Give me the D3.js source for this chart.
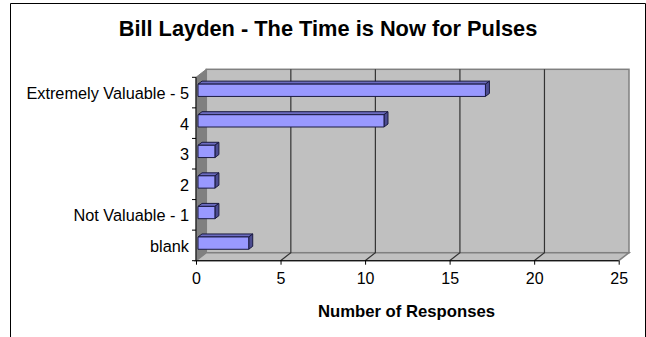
<!DOCTYPE html>
<html>
<head>
<meta charset="utf-8">
<script src="https://cdn.jsdelivr.net/npm/d3@7/dist/d3.min.js"></script>
<style>
  html, body { margin: 0; padding: 0; background: #fff; }
  svg { display: block; }
  text { font-family: "Liberation Sans", Arial, sans-serif; fill: #000; }
</style>
</head>
<body>
<svg id="chart" width="646" height="337"></svg>
<script>
const chartTitle = "Bill Layden - The Time is Now for Pulses";
const axisTitle = "Number of Responses";
const categories = ["Extremely Valuable - 5", "4", "3", "2", "Not Valuable - 1", "blank"];
const responses = [17, 11, 1, 1, 1, 3];
const xTicks = [0, 5, 10, 15, 20, 25];

const svg = d3.select("#chart");

// Frame around the chart area; it runs off the bottom of the page.
svg.append("path")
  .attr("d", "M10.5,337V3.5H645.5V337")
  .attr("fill", "none").attr("stroke", "#000").attr("stroke-width", 1);

svg.append("text")
  .attr("x", 328).attr("y", 36).attr("text-anchor", "middle")
  .attr("font-size", 21.8).attr("font-weight", "bold").text(chartTitle);

const x = d3.scaleLinear().domain([0, 25]).range([196, 618.7]);
const y = d3.scaleBand().domain(categories).range([77.3, 260.7]);
const depth = { x: 10.3, y: -8 };
const barDepth = { x: 4, y: -3 };
const barHeight = 12.3;

const [x0, x1] = x.range();
const [yTop, yBot] = y.range();

// Back wall
svg.append("rect")
  .attr("x", x0 + depth.x).attr("y", yTop + depth.y)
  .attr("width", x1 - x0).attr("height", yBot - yTop)
  .attr("fill", "#c0c0c0").attr("stroke", "#808080").attr("stroke-width", 1.5);

// Side wall
svg.append("polygon")
  .attr("points", [[x0, yTop], [x0 + depth.x, yTop + depth.y], [x0 + depth.x, yBot + depth.y], [x0, yBot]].join(" "))
  .attr("fill", "#808080").attr("stroke", "#808080");

// Floor
svg.append("polygon")
  .attr("points", [[x0, yBot], [x0 + depth.x, yBot + depth.y], [x1 + depth.x, yBot + depth.y], [x1, yBot]].join(" "))
  .attr("fill", "#c0c0c0").attr("stroke", "#808080").attr("stroke-width", 1.5);

// Gridlines: up the back wall, then forward across the floor
const gridTicks = xTicks.slice(1, -1);
svg.append("g").selectAll("path").data(gridTicks).join("path")
  .attr("d", d => `M${x(d)},${yBot}L${x(d) + depth.x},${yBot + depth.y}V${yTop + depth.y}`)
  .attr("fill", "none").attr("stroke", "#333").attr("stroke-width", 1.2);

// Value axis along the front edge of the floor
const xAxis = svg.append("g").attr("transform", `translate(0,${yBot})`)
  .call(d3.axisBottom(x).tickValues(xTicks).tickSize(4).tickPadding(8));
xAxis.selectAll("path,line").attr("stroke", "#000");
xAxis.select(".domain").attr("d", `M${x0},0H${x1}`);
xAxis.selectAll("text").attr("font-size", 16).attr("font-family", '"Liberation Sans", Arial, sans-serif');

// Category axis on the front edge of the side wall
const yAxis = svg.append("g").attr("transform", `translate(${x0},0)`)
  .call(d3.axisLeft(y).tickSize(0).tickPadding(7));
yAxis.select(".domain").attr("d", `M0,${yTop}V${yBot}`).attr("stroke", "#000");
yAxis.selectAll("text").attr("font-size", 16.3).attr("font-family", '"Liberation Sans", Arial, sans-serif').attr("dy", "0.4em");
svg.append("g").selectAll("line").data(d3.range(categories.length + 1)).join("line")
  .attr("x1", x0 - 4).attr("x2", x0)
  .attr("y1", i => yTop + i * y.step()).attr("y2", i => yTop + i * y.step())
  .attr("stroke", "#000");

// Bars with top and end faces
const bars = svg.append("g").selectAll("g").data(categories).join("g")
  .attr("stroke", "#1a1a40").attr("stroke-width", 1).attr("stroke-linejoin", "round");
const barLeft = x0 + 2;
const barRight = (d, i) => barLeft + (x(responses[i]) - x0);
const barTop = d => y(d) + y.step() / 2 - 2.3 - barHeight / 2;

bars.append("polygon").attr("fill", "#6c6cc0")
  .attr("points", (d, i) => {
    const t = barTop(d), r = barRight(d, i);
    return [[barLeft, t], [barLeft + barDepth.x, t + barDepth.y], [r + barDepth.x, t + barDepth.y], [r, t]].join(" ");
  });
bars.append("polygon").attr("fill", "#4c4c90")
  .attr("points", (d, i) => {
    const t = barTop(d), r = barRight(d, i);
    return [[r, t], [r + barDepth.x, t + barDepth.y], [r + barDepth.x, t + barDepth.y + barHeight], [r, t + barHeight]].join(" ");
  });
bars.append("rect").attr("fill", "#9999ff")
  .attr("x", barLeft).attr("y", d => barTop(d))
  .attr("width", (d, i) => barRight(d, i) - barLeft).attr("height", barHeight);

svg.append("text")
  .attr("x", 406.5).attr("y", 317).attr("text-anchor", "middle")
  .attr("font-size", 16.7).attr("font-weight", "bold").text(axisTitle);
</script>
</body>
</html>
